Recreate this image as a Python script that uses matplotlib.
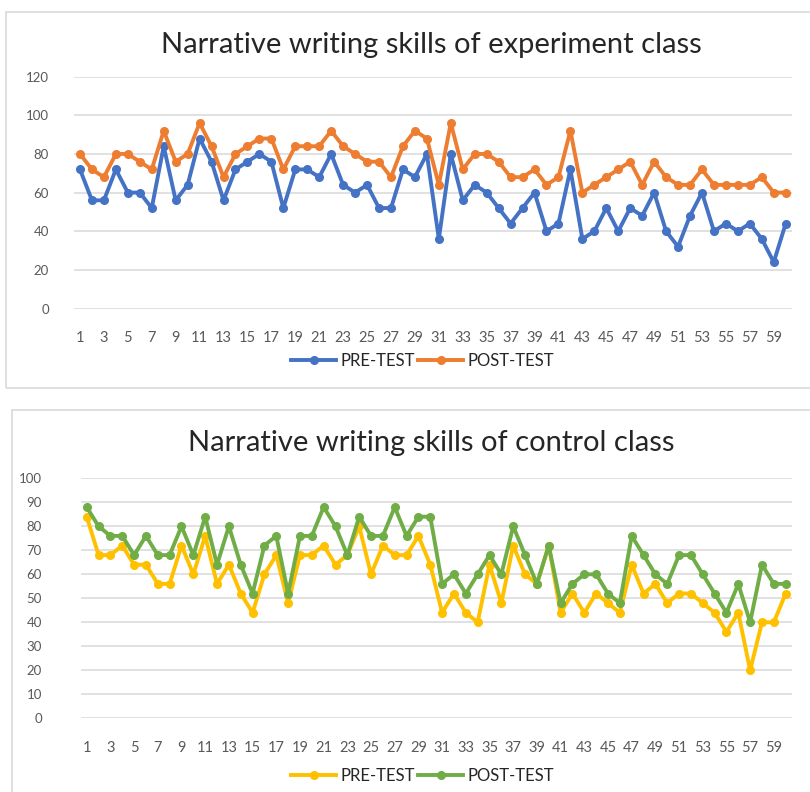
import numpy as np
import matplotlib
matplotlib.use("Agg")
import matplotlib.pyplot as plt
from matplotlib.patches import Rectangle

plt.rcParams['font.family'] = ['Lato', 'DejaVu Sans']

# students 1..60
students = list(range(1, 61))

# experiment class
exp_pre = [72, 56, 56, 72, 60, 60, 52, 84, 56, 64, 88, 76, 56, 72, 76, 80, 76, 52, 72, 72,
           68, 80, 64, 60, 64, 52, 52, 72, 68, 80, 36, 80, 56, 64, 60, 52, 44, 52, 60, 40,
           44, 72, 36, 40, 52, 40, 52, 48, 60, 40, 32, 48, 60, 40, 44, 40, 44, 36, 24, 44]
exp_post = [80, 72, 68, 80, 80, 76, 72, 92, 76, 80, 96, 84, 68, 80, 84, 88, 88, 72, 84, 84,
            84, 92, 84, 80, 76, 76, 68, 84, 92, 88, 64, 96, 72, 80, 80, 76, 68, 68, 72, 64,
            68, 92, 60, 64, 68, 72, 76, 64, 76, 68, 64, 64, 72, 64, 64, 64, 64, 68, 60, 60]

# control class
ctrl_pre = [84, 68, 68, 72, 64, 64, 56, 56, 72, 60, 76, 56, 64, 52, 44, 60, 68, 48, 68, 68,
            72, 64, 68, 80, 60, 72, 68, 68, 76, 64, 44, 52, 44, 40, 64, 48, 72, 60, 56, 72,
            44, 52, 44, 52, 48, 44, 64, 52, 56, 48, 52, 52, 48, 44, 36, 44, 20, 40, 40, 52]
ctrl_post = [88, 80, 76, 76, 68, 76, 68, 68, 80, 68, 84, 64, 80, 64, 52, 72, 76, 52, 76, 76,
             88, 80, 68, 84, 76, 76, 88, 76, 84, 84, 56, 60, 52, 60, 68, 60, 80, 68, 56, 72,
             48, 56, 60, 60, 52, 48, 76, 68, 60, 56, 68, 68, 60, 52, 44, 56, 40, 64, 56, 56]

series_labels = ["PRE-TEST", "POST-TEST"]
titles = ["Narrative writing skills of experiment class",
          "Narrative writing skills of control class"]

grid_col = "#d9d9d9"
text_col = "#595959"

fig = plt.figure(figsize=(8.1, 7.92), dpi=100)

# chart boxes like Excel chart areas
fig.patches.append(Rectangle((6 / 810, 1 - 388 / 792), 810, 376 / 792,
                             transform=fig.transFigure, fill=False,
                             edgecolor=grid_col, lw=1.2))
fig.patches.append(Rectangle((12 / 810, -0.1), 810, 1 - 410 / 792 + 0.1,
                             transform=fig.transFigure, fill=False,
                             edgecolor=grid_col, lw=1.2))


def draw(ax, pre, post, colors, ymax, ystep, title, ypad, leg_y, title_y):
    ax.plot(students, pre, color=colors[0], lw=2.8, marker="o", ms=5.5, label=series_labels[0])
    ax.plot(students, post, color=colors[1], lw=2.8, marker="o", ms=5.5, label=series_labels[1])
    ax.set_xlim(0.5, 60.5)
    ax.set_ylim(0, ymax)
    ax.set_yticks(np.arange(0, ymax + 1, ystep))
    ax.set_xticks(students[::2])
    ax.yaxis.grid(True, color=grid_col, lw=1.1)
    ax.set_axisbelow(True)
    for s in ax.spines.values():
        s.set_visible(False)
    ax.tick_params(length=0, colors=text_col, labelsize=9.5)
    ax.tick_params(axis="x", labelsize=10.5, pad=16)
    ax.tick_params(axis="y", pad=ypad)
    fig.text(0.532, title_y, title, ha="center", va="center", fontsize=21, color="#262626")
    ax.legend(loc="center", bbox_to_anchor=(0.522, leg_y), bbox_transform=fig.transFigure,
              ncol=2, frameon=False, fontsize=12, handlelength=2.7, handletextpad=0.25,
              columnspacing=0.2, labelcolor="#262626")


ax1 = fig.add_axes([74 / 810, 1 - 308.5 / 792, 717.7 / 810, 231.8 / 792])
draw(ax1, exp_pre, exp_post, ["#4472C4", "#ED7D31"], 120, 20, titles[0], 18,
     1 - 361 / 792, 1 - 45 / 792)

ax2 = fig.add_axes([80.8 / 810, 1 - 718.3 / 792, 710.8 / 810, 240 / 792])
draw(ax2, ctrl_pre, ctrl_post, ["#FFC000", "#70AD47"], 100, 10, titles[1], 28,
     1 - 776 / 792, 1 - 443 / 792)

fig.savefig("out.png", dpi=100)
